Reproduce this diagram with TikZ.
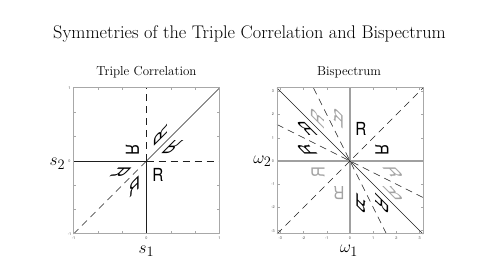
\documentclass[tikz,border=0pt]{standalone}
\usepackage{fontspec}
\usepackage{tikz}
\usetikzlibrary{positioning}
\newfontfamily\symsans{TeX Gyre Heros}
\definecolor{syFrame}{HTML}{A8A8A8}
\definecolor{syAxis}{HTML}{A0A0A0}
\definecolor{syGhost}{HTML}{A3A3A3}
\definecolor{syInk}{HTML}{1E1E1E}
\tikzset{
  sy diagram/.style={x=1pt, y=1pt},
  sy frame/.style={draw=syFrame, line width=1pt},
  sy tick/.style={draw=syFrame, line width=0.5pt},
  sy solid/.style={draw=syInk, line width=0.55pt},
  sy dashed/.style={draw=syInk, line width=0.55pt, dash pattern=on 7pt off 5pt},
  sy gray axis/.style={draw=syAxis, line width=1.2pt},
  sy letter/.style={font=\symsans\fontsize{18}{18}\selectfont, text=black,
    inner sep=0pt, xscale=0.85, transform shape},
  sy ghost/.style={sy letter, text=syGhost},
  sy tick label/.style={font=\symsans\fontsize{3.8}{4}\selectfont, text=black!70, inner sep=0pt},
  sy axis label/.style={font=\fontsize{19}{21}\selectfont, inner sep=0pt, anchor=base},
  sy panel title/.style={font=\fontsize{13}{15}\selectfont, inner sep=0pt, anchor=base},
  sy title/.style={font=\fontsize{18.3}{22}\selectfont, inner sep=0pt, anchor=base}
}
\begin{document}
\begin{tikzpicture}[sy diagram]
\useasboundingbox (0,0) rectangle (498,280);
\node[sy title] (title) at (249.5,241) {Symmetries of the Triple Correlation and Bispectrum};

% triple correlation
\begin{scope}[shift={(146.5,119)}]
\node[sy panel title] (tc title) at (0,85.5) {Triple Correlation};
\foreach \t in {-2,-1,1,2}{
  \draw[sy tick] (\t*24.33,-73) -- ++(0,2.5);
  \draw[sy tick] (\t*24.33,73) -- ++(0,-2.5);
  \draw[sy tick] (-73,\t*24.33) -- ++(2.5,0);
  \draw[sy tick] (73,\t*24.33) -- ++(-2.5,0);
}
\foreach \t/\v in {-1/-1,0/0,1/1}{
  \node[sy tick label] (tc x\t) at (\t*73,-77.5) {\v};
  \node[sy tick label] (tc y\t) at (-77,\t*73) {\v};
}
\draw[sy dashed] (-73,-73) -- (0,0);
\draw[sy solid] (0,0) -- (73,73);
\draw[sy dashed] (0,0) -- (0,73);
\draw[sy solid] (0,-73) -- (0,0);
\draw[sy solid] (-73,0) -- (0,0);
\draw[sy dashed] (0,0) -- (73,0);
\foreach \a/\b/\c/\d [count=\i] in {1/0/0/1, 0/1/1/0, 0/1/-1/-1, -1/-1/1/0, -1/-1/0/1, 1/0/-1/-1}{
  \begin{scope}[cm={\a,\b,\c,\d,(0,0)}]
    \node[sy letter] (tc R\i) at (11.5,-14) {R};
  \end{scope}
}
\draw[sy frame] (-73,-73) rectangle (73,73);
\node[sy axis label] (s1) at (0,-92.5) {$s_1$};
\node[sy axis label] (s2) at (-89,-5) {$s_2$};
\end{scope}

% bispectrum
\begin{scope}[shift={(350,119)}]
\node[sy panel title] (bs title) at (-1,85.5) {Bispectrum};
\foreach \t in {-3,...,3}{
  \draw[sy tick] (\t*23.24,-73) -- ++(0,2.5);
  \draw[sy tick] (\t*23.24,73) -- ++(0,-2.5);
  \draw[sy tick] (-73,\t*23.24) -- ++(2.5,0);
  \draw[sy tick] (73,\t*23.24) -- ++(-2.5,0);
  \node[sy tick label] (bs x\t) at (\t*23.24,-77.5) {\t};
  \node[sy tick label] (bs y\t) at (-77,\t*23.24) {\t};
}
\draw[sy gray axis] (0,-73) -- (0,73);
\draw[sy gray axis] (-73,0) -- (73,0);
\draw[sy solid] (-73,73) -- (73,-73);
\draw[sy dashed] (-73,-73) -- (73,73);
\draw[sy dashed] (-36.5,73) -- (36.5,-73);
\draw[sy dashed] (-73,36.5) -- (73,-36.5);
\foreach \a/\b/\c/\d [count=\i] in {1/0/0/1, 0/1/1/0, -1/0/-1/1, 1/-1/0/-1, 0/-1/1/-1, -1/1/-1/0}{
  \begin{scope}[cm={\a,\b,\c,\d,(0,0)}]
    \node[sy letter] (bs R\i) at (11,32) {R};
  \end{scope}
  \begin{scope}[cm={-\a,-\b,-\c,-\d,(0,0)}]
    \node[sy ghost] (bs G\i) at (11,32) {R};
  \end{scope}
}
\draw[sy frame] (-73,-73) rectangle (73,73);
\node[sy axis label] (w1) at (-1,-92) {$\omega_1$};
\node[sy axis label] (w2) at (-87.5,-2.5) {$\omega_2$};
\end{scope}
\end{tikzpicture}
\end{document}
